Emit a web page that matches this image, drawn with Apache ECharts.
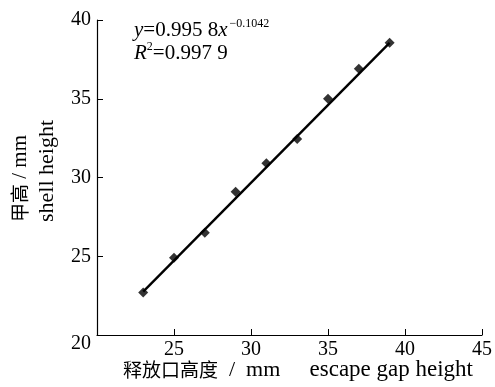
<!DOCTYPE html>
<html>
<head>
<meta charset="utf-8">
<script src="https://cdn.jsdelivr.net/npm/echarts@6/dist/echarts.min.js"></script>
<style>
html,body{margin:0;padding:0;background:#fff;}
#chart{width:495px;height:387px;}
</style>
</head>
<body>
<div id="chart"></div>
<script>
// Data
var gapHeight = [23, 25, 27, 29, 31, 33, 35, 37, 39];
var shellHeight = [22.7, 24.9, 26.5, 29.1, 30.9, 32.45, 35.0, 36.9, 38.55];
var fitX = [23, 39];
var fitY = [22.75, 38.55];
var xTicks = [20, 25, 30, 35, 40, 45];
var yTicks = [20, 25, 30, 35, 40];

var serif = '"Liberation Serif", "DejaVu Serif", serif';
var cjk = '"Noto Sans CJK SC", sans-serif';

var chart = echarts.init(document.getElementById('chart'), null, {renderer: 'canvas'});

var scatterData = gapHeight.map(function (x, i) { return [x, shellHeight[i]]; });
var fitData = fitX.map(function (x, i) { return [x, fitY[i]]; });

var option = {
  backgroundColor: '#fff',
  animation: false,
  grid: {left: 97, right: 12, top: 20, bottom: 52},
  xAxis: {
    type: 'value',
    min: xTicks[0], max: xTicks[xTicks.length - 1], interval: 5,
    axisLine: {show: true, lineStyle: {color: '#000', width: 1.2}},
    axisTick: {show: true, inside: true, length: 6, lineStyle: {color: '#000', width: 1}},
    axisLabel: {showMinLabel: false, margin: 5, color: '#000', fontFamily: serif, fontSize: 20},
    splitLine: {show: false}
  },
  yAxis: {
    type: 'value',
    min: yTicks[0], max: yTicks[yTicks.length - 1], interval: 5,
    axisLine: {show: true, lineStyle: {color: '#000', width: 1.2}},
    axisTick: {show: true, inside: true, length: 6, lineStyle: {color: '#000', width: 1}},
    axisLabel: {
      margin: 6, color: '#000', fontFamily: serif, fontSize: 20,
      formatter: function (v) { return v === yTicks[0] ? '{low|' + v + '}' : String(v); },
      rich: {low: {fontFamily: serif, fontSize: 20, color: '#000', padding: [18, 0, 0, 0]}}
    },
    splitLine: {show: false}
  },
  series: [
    {
      type: 'line',
      data: fitData,
      showSymbol: false,
      lineStyle: {color: '#000', width: 2.4},
      z: 2
    },
    {
      type: 'scatter',
      data: scatterData,
      symbol: 'diamond',
      symbolSize: [10, 10],
      itemStyle: {color: '#000'},
      z: 3
    }
  ],
  graphic: [
    {
      type: 'text',
      left: 134, top: 18,
      style: {
        text: '{i|y}{n|=0.995 8}{i|x}{s|−0.1042}\n{i|R}{s2|2}{n|=0.997 9}',
        fill: '#000',
        rich: {
          i: {fontFamily: serif, fontStyle: 'italic', fontSize: 21, lineHeight: 23, fill: '#000', verticalAlign: 'bottom'},
          n: {fontFamily: serif, fontSize: 21, lineHeight: 23, fill: '#000', verticalAlign: 'bottom'},
          s: {fontFamily: serif, fontSize: 12, lineHeight: 23, fill: '#000', verticalAlign: 'top', padding: [0, 0, 0, 2]},
          s2: {fontFamily: serif, fontSize: 12, lineHeight: 23, fill: '#000', verticalAlign: 'top'}
        }
      }
    },
    {
      type: 'text',
      x: 20, y: 222,
      rotation: Math.PI / 2,
      style: {
        text: '{c|甲高}{n| / mm}',
        textAlign: 'left', textVerticalAlign: 'middle',
        rich: {
          c: {fontFamily: cjk, fontSize: 19, fill: '#000'},
          n: {fontFamily: serif, fontSize: 21, fill: '#000'}
        }
      }
    },
    {
      type: 'text',
      x: 47, y: 222,
      rotation: Math.PI / 2,
      style: {
        text: 'shell height',
        fontFamily: serif, fontSize: 22, fill: '#000',
        textAlign: 'left', textVerticalAlign: 'middle'
      }
    },
    {
      type: 'text',
      x: 123, y: 370,
      style: {
        text: '{c|释放口高度}{n|  /  mm}',
        textAlign: 'left', textVerticalAlign: 'middle',
        rich: {
          c: {fontFamily: cjk, fontSize: 19, fill: '#000'},
          n: {fontFamily: serif, fontSize: 22, fill: '#000'}
        }
      }
    },
    {
      type: 'text',
      x: 473, y: 370,
      style: {
        text: 'escape gap height',
        fontFamily: serif, fontSize: 23, fill: '#000',
        textAlign: 'right', textVerticalAlign: 'middle'
      }
    }
  ]
};
chart.setOption(option);
</script>
</body>
</html>
